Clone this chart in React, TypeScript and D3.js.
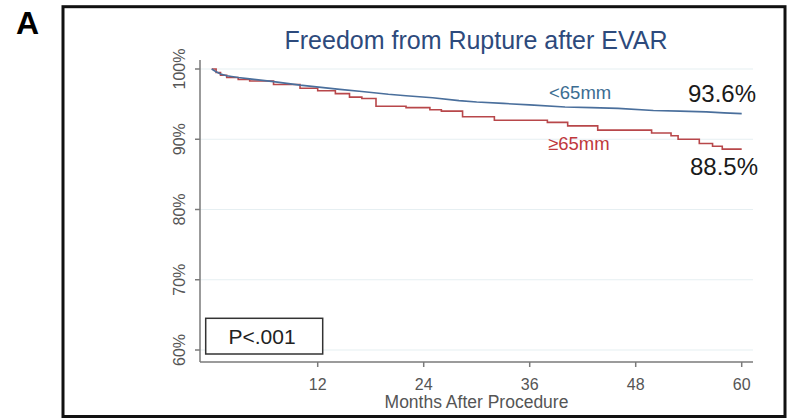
import React from "react";
import * as d3 from "d3";

const title = "Freedom from Rupture after EVAR";
const xTicks = [12, 24, 36, 48, 60];
const yTicks = [60, 70, 80, 90, 100];
const xLabel = "Months After Procedure";

// Kaplan-Meier estimates: [month, % free from rupture]
const smallMonths = [0, 0.5, 1, 1.7, 3, 4.3, 7, 10, 14.5, 17, 20, 22, 25, 28, 30, 33, 36, 40, 43, 46, 50, 53, 56, 58, 60];
const smallValues = [100, 99.6, 99.3, 99.05, 98.8, 98.6, 98.2, 97.7, 97.1, 96.8, 96.4, 96.2, 95.9, 95.5, 95.3, 95.1, 94.9, 94.6, 94.5, 94.4, 94.1, 94.0, 93.9, 93.75, 93.65];
const largeMonths = [0, 0.5, 1, 1.7, 3, 4.3, 7, 10, 12, 14, 15.6, 17, 18.6, 22, 24.7, 26, 28.4, 32, 38, 40.3, 43.7, 49.8, 52, 52.8, 55.2, 56.7, 57.8, 60];
const largeValues = [100, 99.5, 99.1, 98.8, 98.5, 98.3, 97.8, 97.25, 96.9, 96.5, 96.0, 95.8, 94.7, 94.5, 94.2, 94.0, 93.2, 92.7, 92.4, 91.9, 91.3, 90.9, 90.5, 90.0, 89.4, 89.0, 88.6, 88.6];

const smallLabel = "<65mm";
const largeLabel = "≥65mm";
const smallEnd = "93.6%";
const largeEnd = "88.5%";
const pText = "P<.001";

export default function App() {
  const W = 796, H = 420;
  const x = d3.scaleLinear().domain([0, 60]).range([211.7, 741.7]);
  const y = d3.scaleLinear().domain([60, 100]).range([350, 69]);
  const axisX0 = 200, axisX1 = 753, axisY = 362, axisTop = 60;

  const smallData = smallMonths.map((m, i) => [m, smallValues[i]] as [number, number]);
  const largeData = largeMonths.map((m, i) => [m, largeValues[i]] as [number, number]);
  const lineLin = d3.line<[number, number]>().x(d => x(d[0])).y(d => y(d[1])).curve(d3.curveLinear);
  const lineStep = d3.line<[number, number]>().x(d => x(d[0])).y(d => y(d[1])).curve(d3.curveStepAfter);

  const font = "'Liberation Sans', Arial, sans-serif";
  return (
    <svg width={W} height={H} style={{ position: "absolute", left: 0, top: 0, background: "#fff" }} fontFamily={font}>
      <rect x={0} y={0} width={W} height={H} fill="#fff" />
      <rect x={63} y={6.7} width={722} height={409.8} fill="none" stroke="#111" strokeWidth={3} />
      <text x={16} y={34} fontSize={32} fontWeight="bold" fill="#000">A</text>
      <text x={476} y={49} fontSize={25} textAnchor="middle" fill="#2d4a7c">{title}</text>

      {yTicks.map(t => (
        <line key={"g" + t} x1={axisX0} x2={axisX1} y1={y(t)} y2={y(t)} stroke="#e6eff2" strokeWidth={1.2} />
      ))}
      <line x1={axisX0} x2={axisX0} y1={axisTop} y2={axisY} stroke="#7a7a7a" strokeWidth={1.5} />
      <line x1={axisX0} x2={axisX1} y1={axisY} y2={axisY} stroke="#7a7a7a" strokeWidth={1.5} />
      {yTicks.map(t => (
        <g key={"y" + t}>
          <line x1={axisX0 - 5} x2={axisX0} y1={y(t)} y2={y(t)} stroke="#7a7a7a" strokeWidth={1.5} />
          <text transform={`translate(185,${y(t)}) rotate(-90)`} fontSize={16} textAnchor="middle" fill="#555">{t}%</text>
        </g>
      ))}
      {xTicks.map(t => (
        <g key={"x" + t}>
          <line x1={x(t)} x2={x(t)} y1={axisY} y2={axisY + 5} stroke="#7a7a7a" strokeWidth={1.5} />
          <text x={x(t)} y={390} fontSize={16} textAnchor="middle" fill="#555">{t}</text>
        </g>
      ))}
      <text x={476.5} y={408} fontSize={17.5} textAnchor="middle" fill="#555">{xLabel}</text>

      <path d={lineStep(largeData) || ""} fill="none" stroke="#b8474a" strokeWidth={1.6} />
      <path d={lineLin(smallData) || ""} fill="none" stroke="#4a6f9c" strokeWidth={1.6} />

      <text x={549} y={99} fontSize={18.5} fill="#3c6d92">{smallLabel}</text>
      <text x={548} y={150} fontSize={18.5} fill="#c0383c">{largeLabel}</text>
      <text x={688} y={102} fontSize={24} fill="#1a1a1a">{smallEnd}</text>
      <text x={690} y={175} fontSize={24} fill="#1a1a1a">{largeEnd}</text>

      <rect x={205.7} y={318.3} width={117} height={35.7} fill="#fff" stroke="#333" strokeWidth={1.5} />
      <text x={262} y={344} fontSize={21} textAnchor="middle" fill="#222">{pText}</text>
    </svg>
  );
}
